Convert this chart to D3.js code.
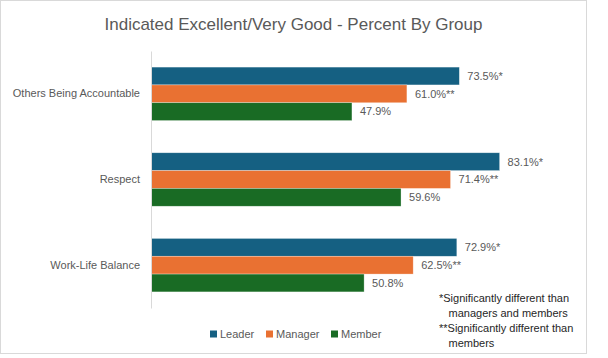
<!DOCTYPE html>
<html>
<head>
<meta charset="utf-8">
<script src="https://cdn.jsdelivr.net/npm/d3@7"></script>
<style>
  html, body { margin: 0; padding: 0; background: #fff; }
  svg { display: block; font-family: "Liberation Sans", Arial, sans-serif; }
</style>
</head>
<body>
<script>
const categories = ["Others Being Accountable", "Respect", "Work-Life Balance"];
const seriesNames = ["Leader", "Manager", "Member"];
const leaderValues = [73.5, 83.1, 72.9];
const managerValues = [61.0, 71.4, 62.5];
const memberValues = [47.9, 59.6, 50.8];
const leaderMarks = ["*", "*", "*"];
const managerMarks = ["**", "**", "**"];
const memberMarks = ["", "", ""];
const colors = ["#156082", "#E97132", "#196B24"];
const titleText = "Indicated Excellent/Very Good - Percent By Group";
const footnotes = [
  {text: "*Significantly different than", indent: 0},
  {text: "managers and members", indent: 1},
  {text: "**Significantly different than", indent: 0},
  {text: "members", indent: 1}
];

const W = 608, H = 358;
const svg = d3.select("body").append("svg").attr("width", W).attr("height", H);

// outer chart border
svg.append("rect")
  .attr("x", 0.5).attr("y", 0.5).attr("width", 586).attr("height", 353)
  .attr("fill", "#fff").attr("stroke", "#d9d9d9").attr("stroke-width", 1);

svg.append("text")
  .attr("x", 293.5).attr("y", 30)
  .attr("text-anchor", "middle")
  .attr("font-size", 17).attr("fill", "#595959")
  .text(titleText);

const series = [leaderValues, managerValues, memberValues];
const marks = [leaderMarks, managerMarks, memberMarks];
const data = categories.map((c, i) => ({
  category: c,
  bars: seriesNames.map((s, j) => ({ series: s, value: series[j][i], mark: marks[j][i], color: colors[j] }))
}));

const x = d3.scaleLinear().domain([0, 100]).range([151, 570.5]);
const y = d3.scaleBand().domain(categories).range([51, 308]).paddingInner(0.376).paddingOuter(0.188);
const yInner = d3.scaleBand().domain(seriesNames).range([0, y.bandwidth()]);

const groups = svg.append("g").selectAll("g").data(data).join("g")
  .attr("transform", d => `translate(0,${y(d.category)})`);

groups.selectAll("rect").data(d => d.bars).join("rect")
  .attr("x", x(0))
  .attr("y", d => yInner(d.series))
  .attr("width", d => x(d.value) - x(0))
  .attr("height", yInner.bandwidth())
  .attr("fill", d => d.color)
  .attr("stroke", "#ffffff").attr("stroke-opacity", 0.5).attr("stroke-width", 0.6);

groups.selectAll("text").data(d => d.bars).join("text")
  .attr("x", d => x(d.value) + 8)
  .attr("y", d => yInner(d.series) + yInner.bandwidth() / 2)
  .attr("dy", "0.35em")
  .attr("font-size", 11).attr("fill", "#595959")
  .text(d => d.value.toFixed(1) + "%" + d.mark);

// category axis
const axis = svg.append("g")
  .attr("transform", `translate(${x(0)},0)`)
  .call(d3.axisLeft(y).tickSize(0).tickPadding(11));
axis.select(".domain").attr("stroke", "#d9d9d9");
axis.selectAll("text").attr("font-size", 11).attr("fill", "#595959")
  .attr("font-family", "Liberation Sans, Arial, sans-serif");

// legend
const legendX = [210, 266, 331];
const legend = svg.append("g").selectAll("g").data(seriesNames).join("g")
  .attr("transform", (d, i) => `translate(${legendX[i]},334)`);
legend.append("rect").attr("x", 0).attr("y", -3.5).attr("width", 7).attr("height", 7)
  .attr("fill", (d, i) => colors[i]);
legend.append("text").attr("x", 10).attr("y", 0).attr("dy", "0.35em")
  .attr("font-size", 11).attr("fill", "#595959").text(d => d);

// footnotes
svg.append("g").selectAll("text").data(footnotes).join("text")
  .attr("x", d => 439 + d.indent * 9.5)
  .attr("y", (d, i) => 298 + i * 15.2)
  .attr("dy", "0.35em")
  .attr("font-size", 11).attr("fill", "#262626")
  .text(d => d.text);
</script>
</body>
</html>
